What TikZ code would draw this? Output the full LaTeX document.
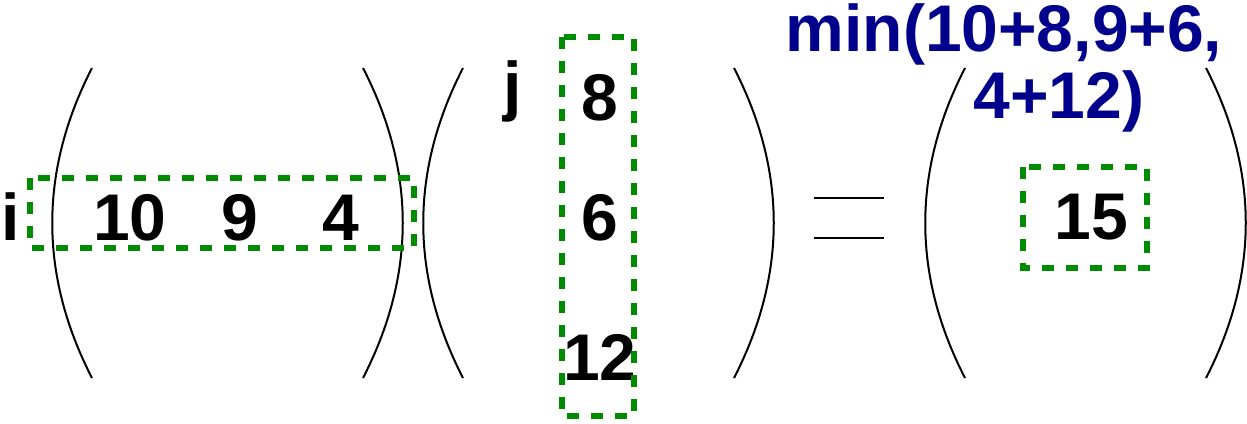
\documentclass[tikz,border=0pt]{standalone}
\usepackage{fontspec}
\setmainfont{Liberation Sans}
\definecolor{cgreen}{HTML}{008C00}
\definecolor{cnavy}{HTML}{00008C}

\begin{document}
\begin{tikzpicture}[x=0.5pt,y=-0.5pt,
  num/.style={font=\fontsize{33}{40}\selectfont\bfseries,inner sep=0pt,anchor=base},
  sel/.style={draw=cgreen,line width=2.8pt,dash pattern=on 6pt off 6pt},
  paren/.style={line width=1pt}]
  \useasboundingbox (0,0) rectangle (1247,423);
  % matrix brackets
  \foreach \x/\d in {92/-1,363/1,463/-1,734/1,965/-1,1206/1}
    \draw[paren] (\x,68) .. controls ({\x+53*\d},171) and ({\x+53*\d},275) .. (\x,378);
  % row vector
  \node[num] (i) at (11,240) {i};
  \node[num] (a1) at (130,240) {10};
  \node[num] (a2) at (240,240) {9};
  \node[num] (a3) at (341,240) {4};
  \draw[sel] (30,178) rectangle (414,248);
  % column vector
  \node[num] (j) at (513,108) {j};
  \node[num] (b1) at (600,120) {8};
  \node[num] (b2) at (600,240) {6};
  \node[num] (b3) at (600,380) {12};
  \draw[sel] (562,37) rectangle (634,416);
  % equals
  \draw[paren] (814,198) -- (884,198);
  \draw[paren] (814,238) -- (884,238);
  % result
  \node[num] (c) at (1091,239) {15};
  \draw[sel] (1023,167) rectangle (1147,268);
  \node[num,text=cnavy] (m1) at (1004,51) {min(10+8,9+6,};
  \node[num,text=cnavy] (m2) at (1059,118) {4+12)};
\end{tikzpicture}
\end{document}
